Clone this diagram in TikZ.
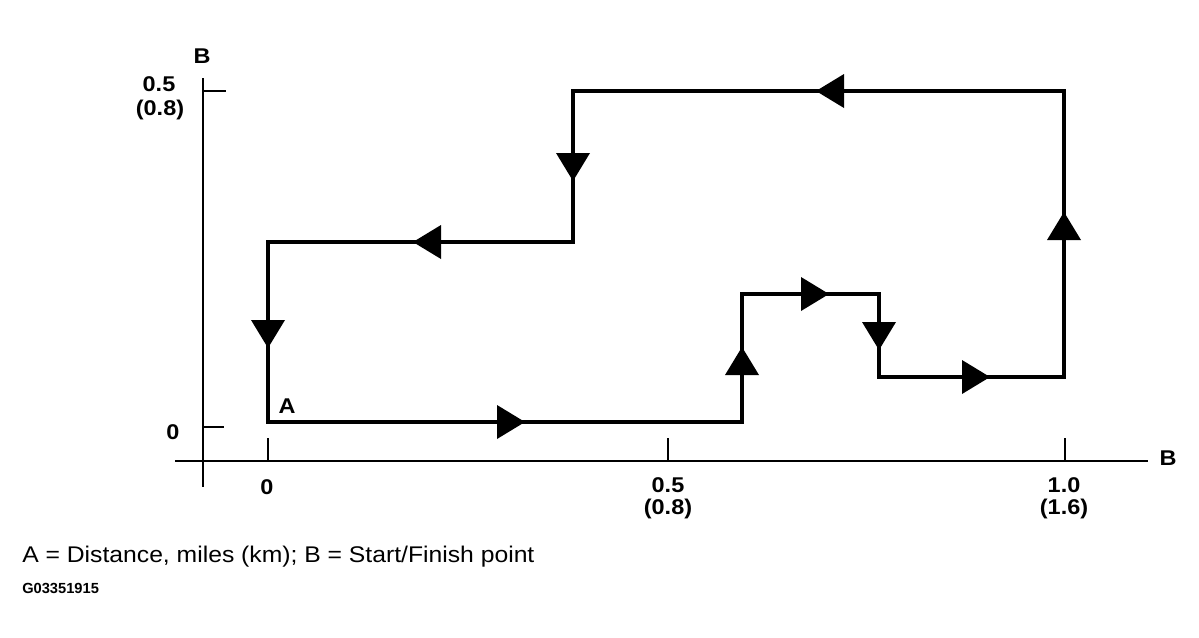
\documentclass[tikz,border=0pt]{standalone}
\usepackage{fontspec}
\setmainfont{Liberation Sans}
\newfontfamily\widefont[FakeStretch=1.1]{Liberation Sans}
\newfontfamily\capfont[FakeStretch=1.09]{Liberation Sans}
\begin{document}
\begin{tikzpicture}[x=0.75pt,y=-0.75pt,
  route/.style={line width=3.1pt,line join=miter},
  axis/.style={line width=2.2pt},
  lbl/.style={inner sep=0pt,anchor=base,font=\widefont\fontsize{16}{18}\selectfont\bfseries},
  tri/.pic={\fill (0,0) -- (-28,-17) -- (-28,17) -- cycle;}]
\useasboundingbox (0,0) rectangle (1199,637);
% axes
\coordinate (vt) at (203,78);
\coordinate (vb) at (203,487);
\coordinate (hl) at (175,461);
\coordinate (hr) at (1148,461);
\draw[axis] (vt) -- (vb);
\draw[axis] (hl) -- (hr);
\coordinate (ty5) at (203,91);  \coordinate (ty5e) at (226,91);
\coordinate (ty0) at (203,427); \coordinate (ty0e) at (224,427);
\coordinate (tx0) at (268,438); \coordinate (tx0e) at (268,461);
\coordinate (tx5) at (668,438); \coordinate (tx5e) at (668,461);
\coordinate (tx1) at (1065,438); \coordinate (tx1e) at (1065,461);
\draw[axis] (ty5) -- (ty5e);
\draw[axis] (ty0) -- (ty0e);
\draw[axis] (tx0) -- (tx0e);
\draw[axis] (tx5) -- (tx5e);
\draw[axis] (tx1) -- (tx1e);
% route corners
\coordinate (A) at (268,422);
\coordinate (p1) at (742,422);
\coordinate (p2) at (742,294);
\coordinate (p3) at (879,294);
\coordinate (p4) at (879,377);
\coordinate (p5) at (1064,377);
\coordinate (p6) at (1064,91);
\coordinate (p7) at (573,91);
\coordinate (p8) at (573,242);
\coordinate (p9) at (268,242);
\draw[route] (A) -- (p1) -- (p2) -- (p3) -- (p4) -- (p5) -- (p6) -- (p7) -- (p8) -- (p9) -- cycle;
% arrowheads
\pic at (525,422) {tri};
\pic[rotate=90] at (742,347) {tri};
\pic at (829,294) {tri};
\pic[rotate=-90] at (879,350) {tri};
\pic at (990,377) {tri};
\pic[rotate=90] at (1064,212) {tri};
\pic[rotate=180] at (816,91) {tri};
\pic[rotate=-90] at (573,181) {tri};
\pic[rotate=180] at (413,242) {tri};
\pic[rotate=-90] at (268,348) {tri};
% labels
\node[lbl] (bt) at (202,63) {B};
\node[lbl] (l5) at (159,91) {0.5};
\node[lbl] (l8) at (160,115) {(0.8)};
\node[lbl] (l0) at (173,439) {0};
\node[lbl] (la) at (287,413) {A};
\node[lbl] (b0) at (267,494) {0};
\node[lbl] (b5) at (668,492) {0.5};
\node[lbl] (b8) at (668,514) {(0.8)};
\node[lbl] (b10) at (1064,492) {1.0};
\node[lbl] (b16) at (1064,514) {(1.6)};
\node[lbl] (br) at (1168,465) {B};
\node[inner sep=0pt,anchor=base west,font=\capfont\fontsize{17}{20}\selectfont] (cap) at (22,562) {A = Distance, miles (km); B = Start/Finish point};
\node[inner sep=0pt,anchor=base west,font=\fontsize{11}{13}\selectfont\bfseries] (code) at (22,593) {G03351915};
\end{tikzpicture}
\end{document}
